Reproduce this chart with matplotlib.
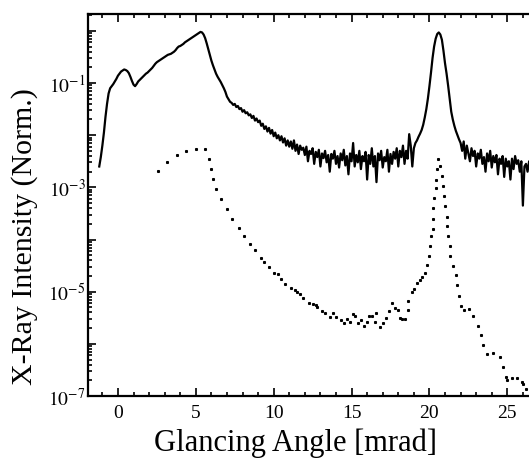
import numpy as np
import matplotlib
matplotlib.use("Agg")
import matplotlib.pyplot as plt
from matplotlib.ticker import MultipleLocator, LogLocator, FixedLocator, FixedFormatter, NullFormatter

plt.rcParams['font.family'] = ['Liberation Serif', 'DejaVu Serif']
plt.rcParams['mathtext.fontset'] = 'stix'

# Solid curve: log10 of intensity, sampled every 0.1 mrad starting at -1.2 mrad
solid_start = -1.2
solid_step = 0.1
solid_log = [
    -2.6, -2.42, -2.2, -1.95, -1.65, -1.4, -1.2, -1.1, -1.06, -1.02, -0.97,
    -0.92, -0.86, -0.82, -0.78, -0.76, -0.74, -0.75, -0.77, -0.81, -0.88,
    -0.96, -1.03, -1.06, -1.02, -0.97, -0.94, -0.91, -0.88, -0.85, -0.82,
    -0.8, -0.77, -0.74, -0.71, -0.67, -0.63, -0.6, -0.58, -0.56, -0.54,
    -0.52, -0.5, -0.48, -0.46, -0.45, -0.44, -0.42, -0.4, -0.37, -0.33,
    -0.3, -0.29, -0.27, -0.25, -0.22, -0.2, -0.18, -0.16, -0.14, -0.12,
    -0.1, -0.08, -0.06, -0.04, -0.02, -0.03, -0.07, -0.14, -0.24, -0.35,
    -0.46, -0.57, -0.66, -0.74, -0.82, -0.88, -0.93, -0.98, -1.04, -1.1,
    -1.17, -1.26, -1.31, -1.36, -1.38, -1.42, -1.4, -1.46, -1.44, -1.5,
    -1.48, -1.55, -1.52, -1.58, -1.56, -1.62, -1.6, -1.67, -1.63, -1.72,
    -1.68, -1.75, -1.72, -1.82, -1.78, -1.88, -1.83, -1.93, -1.86, -1.97,
    -1.9, -2.02, -1.95, -2.06, -2.0, -2.1, -2.02, -2.14, -2.06, -2.2,
    -2.1, -2.22, -2.12, -2.26, -2.1, -2.3, -2.18, -2.36, -2.2, -2.28,
    -2.24, -2.38, -2.22, -2.5, -2.3, -2.36, -2.25, -2.55, -2.32, -2.42,
    -2.28, -2.6, -2.35, -2.44, -2.3, -2.52, -2.38, -2.7, -2.36, -2.45,
    -2.3, -2.55, -2.4, -2.62, -2.35, -2.48, -2.28, -2.58, -2.4, -2.75,
    -2.35, -2.5, -2.15, -2.6, -2.38, -2.52, -2.3, -2.65, -2.4, -2.5,
    -2.32, -2.85, -2.38, -2.55, -2.25, -2.6, -2.4, -2.9, -2.35, -2.48,
    -2.3, -2.62, -2.42, -2.5, -2.28, -2.7, -2.36, -2.55, -2.32, -2.45,
    -2.25, -2.6, -2.3, -2.42, -2.2, -2.55, -2.3, -2.45, -1.98, -2.2,
    -2.6, -2.25, -2.15, -2.1, -2.03, -1.97, -1.9, -1.8, -1.66, -1.5,
    -1.3, -1.06, -0.8, -0.52, -0.3, -0.15, -0.06, -0.03, -0.07, -0.17,
    -0.38, -0.62, -0.82, -1.05, -1.3, -1.55, -1.7, -1.82, -1.92, -2.0,
    -2.08, -2.15, -2.3, -2.12, -2.45, -2.2, -2.35, -2.5, -2.25, -2.4,
    -2.3, -2.6, -2.35, -2.45, -2.28, -2.55, -2.42, -2.7, -2.35, -2.5,
    -2.3, -2.62, -2.4, -2.52, -2.38, -2.75, -2.45, -2.55, -2.4, -2.8,
    -2.45, -2.6, -2.5, -2.85, -2.45, -2.65, -2.4, -2.55, -2.48, -2.7,
    -2.5, -3.35, -2.6, -2.55, -2.7, -2.5, -2.6,
]

# Dotted curve: (angle, log10 intensity)
dot_angle = [
    2.6, 3.15, 3.8, 4.4, 5.0, 5.6, 5.85, 5.95, 6.1, 6.3, 6.6, 7.0, 7.3, 7.75,
    8.1, 8.5, 8.8, 9.2, 9.4, 9.7, 10.05, 10.3, 10.5, 10.7, 11.1, 11.35, 11.5,
    11.7, 11.9, 12.25, 12.5, 12.7, 12.8, 13.1, 13.3, 13.6, 13.8, 14.0, 14.3,
    14.5, 14.7, 14.9, 15.1, 15.2, 15.4, 15.6, 15.8, 16.0, 16.1, 16.3, 16.5,
    16.6, 16.8, 17.0, 17.2, 17.4, 17.6, 17.8, 18.0, 18.1, 18.25, 18.4, 18.6,
    18.65, 18.9, 19.0, 19.2, 19.4, 19.55, 19.7, 19.85, 19.95, 20.05, 20.1,
    20.2, 20.22, 20.25, 20.3, 20.4, 20.45, 20.5, 20.55, 20.7, 20.8, 20.9,
    20.95, 20.97, 21.1, 21.15, 21.2, 21.3, 21.35, 21.5, 21.7, 21.8, 21.9,
    22.0, 22.2, 22.55, 22.8, 23.1, 23.3, 23.45, 23.7, 24.1, 24.5, 24.7, 24.9,
    25.0, 25.3, 25.6, 25.95, 26.0, 26.2,
]
dot_log = [
    -2.69, -2.52, -2.38, -2.31, -2.27, -2.27, -2.46, -2.65, -2.84, -3.04,
    -3.23, -3.42, -3.6, -3.77, -3.94, -4.08, -4.21, -4.35, -4.44, -4.52,
    -4.65, -4.67, -4.75, -4.86, -4.93, -4.96, -5.0, -5.04, -5.12, -5.21,
    -5.23, -5.25, -5.29, -5.38, -5.4, -5.48, -5.4, -5.48, -5.55, -5.6,
    -5.52, -5.58, -5.43, -5.46, -5.6, -5.55, -5.65, -5.58, -5.46, -5.46,
    -5.58, -5.4, -5.67, -5.6, -5.5, -5.38, -5.21, -5.31, -5.36, -5.5,
    -5.52, -5.52, -5.35, -5.17, -5.0, -4.94, -4.83, -4.77, -4.71, -4.65,
    -4.48, -4.31, -4.13, -3.94, -3.79, -3.6, -3.4, -3.21, -3.02, -2.85,
    -2.65, -2.46, -2.6, -2.79, -2.98, -3.17, -3.35, -3.56, -3.75, -3.94,
    -4.13, -4.31, -4.5, -4.69, -4.88, -5.08, -5.27, -5.36, -5.33, -5.46,
    -5.65, -5.83, -6.02, -6.19, -6.17, -6.25, -6.44, -6.63, -6.69, -6.65,
    -6.65, -6.73, -6.77, -6.87,
]

y_ticks = [1e-7, 1e-6, 1e-5, 1e-4, 1e-3, 1e-2, 1e-1, 1e0]
y_tick_labels = [r'$10^{-7}$', '', r'$10^{-5}$', '', r'$10^{-3}$', '', r'$10^{-1}$', '']

solid_angle = np.round(solid_start + solid_step * np.arange(len(solid_log)), 2)
solid_int = 10.0 ** np.array(solid_log)
dot_int = 10.0 ** np.array(dot_log)

fig = plt.figure(figsize=(5.29, 4.60), dpi=100)
ax = fig.add_axes([0.167, 0.137, 0.845, 0.830])

ax.plot(solid_angle, solid_int, color='black', lw=1.6)
ax.plot(dot_angle, dot_int, linestyle='none', marker='s', ms=1.2, color='black')

ax.set_yscale('log')
ax.set_xlim(-1.9, 26.8)
ax.set_ylim(1e-7, 2.09)

ax.xaxis.set_major_locator(MultipleLocator(5))
ax.xaxis.set_minor_locator(MultipleLocator(1))
ax.yaxis.set_major_locator(FixedLocator(y_ticks))
ax.yaxis.set_major_formatter(FixedFormatter(y_tick_labels))
ax.yaxis.set_minor_locator(LogLocator(base=10, subs=np.arange(2, 10)))
ax.yaxis.set_minor_formatter(NullFormatter())

ax.tick_params(which='both', direction='in', top=True, right=False, width=1.2, labelsize=14)
ax.tick_params(which='major', length=6)
ax.tick_params(which='minor', length=3)
ax.tick_params(axis='y', pad=2)
ax.tick_params(axis='x', pad=6)
for s in ax.spines.values():
    s.set_linewidth(1.6)

ax.set_xlabel('Glancing Angle [mrad]', fontsize=22)
ax.set_ylabel('X-Ray Intensity (Norm.)', fontsize=21.5)
ax.xaxis.set_label_coords(0.463, -0.082)
ax.yaxis.set_label_coords(-0.113, 0.42)

fig.savefig('out.png', dpi=100)
